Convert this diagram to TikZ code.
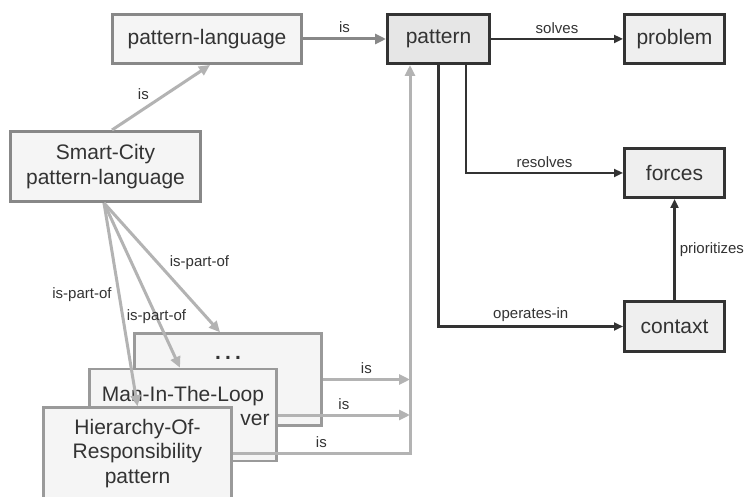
\documentclass[tikz,border=0pt]{standalone}
\usepackage{fontspec}
\setmainfont{Liberation Sans}
\usetikzlibrary{arrows.meta,calc}
\definecolor{txt}{HTML}{333333}
\definecolor{dk}{HTML}{333333}
\definecolor{mg}{HTML}{888888}
\definecolor{lg}{HTML}{B3B3B3}
\definecolor{sbord}{HTML}{9A9A9A}
\definecolor{lfill}{HTML}{F5F5F5}
\definecolor{dfill}{HTML}{E6E6E6}
\definecolor{efill}{HTML}{EFEFEF}
\begin{document}
\begin{tikzpicture}[x=1pt,y=-1pt,
 box/.style={rectangle, draw, text=txt, align=center, font=\fontsize{21}{24.5}\selectfont, inner sep=0pt},
 gbox/.style={box, fill=lfill, draw=mg, line width=3pt},
 sbox/.style={box, fill=lfill, draw=sbord, line width=2.5pt},
 dbox/.style={box, fill=efill, draw=dk, line width=3pt},
 lbl/.style={text=txt, font=\fontsize{15}{17}\selectfont, inner sep=1pt},
 darr/.style={draw=dk, line width=2.5pt, -{Triangle[length=9pt,width=8pt]}},
 garr/.style={draw=lg, line width=3pt, -{Triangle[length=11pt,width=10pt]}},
 marr/.style={draw=mg, line width=3pt, -{Triangle[length=11pt,width=10pt]}},
]
\fill[white] (0,0) rectangle (745,497);
\useasboundingbox (0,0) rectangle (745,497);

\node[gbox, minimum width=189pt, minimum height=49pt] (pl) at (207,39) {pattern-language};
\node[dbox, fill=dfill, minimum width=102pt, minimum height=49pt] (pat) at (438.5,39) {pattern};
\node[dbox, minimum width=100pt, minimum height=49pt] (prob) at (674.5,39) {problem};
\node[dbox, minimum width=100pt, minimum height=49pt] (forc) at (674.5,173) {forces};
\node[dbox, minimum width=100pt, minimum height=50pt] (ctx) at (674.5,326.5) {contaxt};
\node[gbox, minimum width=190pt, minimum height=70pt] (SC) at (105.5,166.5) {Smart-City\\pattern-language};
\node[sbox, minimum width=187pt, minimum height=92pt] (dots) at (228,379.5) {{\bfseries.\hspace{4.2pt}.\hspace{4.2pt}.}\\\strut\\[-14pt]\strut};
\node[sbox, minimum width=187pt, minimum height=92pt] (Man) at (183,415) {Man-In-The-Loop\\\hspace*{144pt}ver\\[-14pt]\strut};
\node[sbox, minimum width=188pt, minimum height=92pt] (Hier) at (137.5,453.5) {Hierarchy-Of-\\Responsibility\\pattern};

\coordinate (pin) at ([xshift=-28.5pt]pat.south);

\draw[marr] (pl) -- node[lbl, above=4pt] (l1) {is} (pat);
\draw[garr] ([xshift=6.5pt]SC.north) -- node[lbl, pos=0.32, above=7pt] (l2) {is} ([xshift=3pt]pl.south);
\draw[darr] (pat) -- node[lbl, above=3pt] (l3) {solves} (prob);
\draw[darr] ([xshift=27.5pt]pat.south) |- node[lbl, pos=0.75, above=3pt] (l4) {resolves} (forc);
\draw[darr] (pat.south) |- node[lbl, pos=0.75, above=3pt] (l5) {operates-in} (ctx);
\draw[darr] (ctx) -- node[lbl, right=3pt] (l6) {prioritizes} (forc);
\draw[garr] (Hier.east) -| node[lbl, pos=0.25, above=3pt] (l7) {is} (pin);
\draw[garr] (dots.east) -- node[lbl, above=3pt] (l8) {is} (dots.east -| pin);
\draw[garr] (Man.east) -- node[lbl, above=3pt] (l9) {is} (Man.east -| pin);
\draw[garr] ([xshift=-1.5pt]SC.south) -- node[lbl, pos=0.46, right=10pt] (l10) {is-part-of} ([xshift=-8pt]dots.north);
\draw[garr] ([xshift=-1.5pt]SC.south) -- node[lbl, pos=0.69] (l11) {is-part-of} ([xshift=-3pt]Man.north);
\draw[garr] ([xshift=-1.5pt]SC.south) -- node[lbl, pos=0.45, left=5pt] (l12) {is-part-of} (Hier.north);
\end{tikzpicture}
\end{document}
